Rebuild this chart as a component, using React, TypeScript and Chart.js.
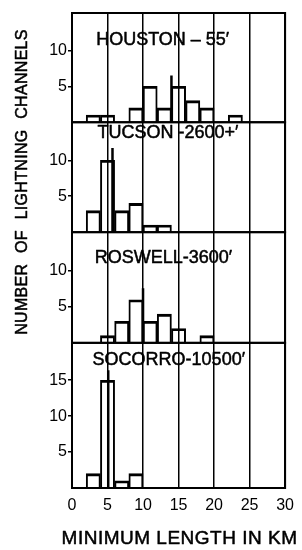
import React, { useEffect, useRef } from "react";
import { Chart, registerables } from "chart.js";

Chart.register(...registerables);

// ---- data ----
const binCenters = [1, 3, 5, 7, 9, 11, 13, 15, 17, 19, 21, 23, 25, 27, 29]; // km, 2-km bins
const houstonCounts = [0, 1, 1, 0, 2, 5, 2, 5, 3, 2, 0, 1, 0, 0, 0];
const tucsonCounts = [0, 3, 10, 3, 4, 1, 1, 0, 0, 0, 0, 0, 0, 0, 0];
const roswellCounts = [0, 0, 1, 3, 6, 3, 4, 2, 0, 1, 0, 0, 0, 0, 0];
const socorroCounts = [0, 2, 15, 1, 2, 0, 0, 0, 0, 0, 0, 0, 0, 0, 0];
const panelNames = ["HOUSTON – 55′", "TUCSON -2600+′", "ROSWELL-3600′", "SOCORRO-10500′"];
const medianKm = [14, 5.7, 10, 5.1];
const medianMarkTop = [6.5, 11.7, 7.6, 16.4];
const yTickValues = [[5, 10], [5, 10], [5, 10], [5, 10, 15]];
const yMax = [15.2, 15.3, 15.4, 20.2];
const xTickValues = [0, 5, 10, 15, 20, 25, 30];
const xTitle = "MINIMUM LENGTH IN KM";
const yTitle = "NUMBER OF LIGHTNING CHANNELS";

// ---- layout / style (not data) ----
const titleAnchor = [
  { x: 3.4, y: 11.45 },
  { x: 3.6, y: 13.8 },
  { x: 3.2, y: 11.8 },
  { x: 2.9, y: 17.8 },
];
const FONT = '"Liberation Sans", Arial, sans-serif';

const allCounts = [houstonCounts, tucsonCounts, roswellCounts, socorroCounts];

function boldText(ctx: any, text: string, x: number, y: number) {
  ctx.fillText(text, x, y);
  ctx.strokeText(text, x, y);
}

const framePlugin = {
  id: "framesAndText",
  afterDraw(chart: any) {
    const { ctx, chartArea, scales } = chart;
    ctx.save();
    ctx.strokeStyle = "#000";
    ctx.lineWidth = 2;
    for (let i = 0; i < 4; i++) {
      const s = scales["y" + i];
      ctx.strokeRect(chartArea.left, s.top, chartArea.right - chartArea.left, s.bottom - s.top);
    }
    ctx.fillStyle = "#000";
    ctx.lineWidth = 0.5;
    ctx.lineJoin = "round";
    ctx.textBaseline = "middle";
    ctx.textAlign = "left";
    ctx.font = "18px " + FONT;
    for (let i = 0; i < 4; i++) {
      const s = scales["y" + i];
      boldText(
        ctx,
        panelNames[i],
        scales.x.getPixelForValue(titleAnchor[i].x),
        s.getPixelForValue(titleAnchor[i].y)
      );
    }
    // x title
    ctx.textAlign = "center";
    ctx.font = "19px " + FONT;
    ctx.letterSpacing = "0.5px";
    boldText(ctx, xTitle, (chartArea.left + chartArea.right) / 2 + 1, chartArea.bottom + 51);
    // y title
    ctx.save();
    ctx.translate(chartArea.left - 49, chartArea.top + 169);
    ctx.rotate(-Math.PI / 2);
    ctx.font = "16px " + FONT;
    ctx.letterSpacing = "0.3px";
    ctx.wordSpacing = "6px";
    boldText(ctx, yTitle, 0, 0);
    ctx.restore();
    ctx.restore();
  },
};

export default function App() {
  const ref = useRef<HTMLCanvasElement | null>(null);

  useEffect(() => {
    if (!ref.current) return;
    const datasets: any[] = [];
    for (let i = 0; i < 4; i++) {
      datasets.push({
        type: "bar",
        data: binCenters.map((x, j) => ({ x, y: allCounts[i][j] })),
        yAxisID: "y" + i,
        borderColor: "#000",
        backgroundColor: "rgba(0,0,0,0)",
        borderWidth: { top: 2.2, left: 1.3, right: 1.3, bottom: 0 },
        borderSkipped: false,
        barPercentage: 1,
        categoryPercentage: 1,
        grouped: false,
      });
      datasets.push({
        type: "line",
        data: [
          { x: medianKm[i], y: 0 },
          { x: medianKm[i], y: medianMarkTop[i] },
        ],
        yAxisID: "y" + i,
        borderColor: "#000",
        borderWidth: 2.5,
        pointRadius: 0,
        fill: false,
      });
    }

    const scales: any = {
      x: {
        type: "linear",
        position: "bottom",
        min: 0,
        max: 30,
        offset: false,
        afterBuildTicks: (s: any) => {
          s.ticks = xTickValues.map((v) => ({ value: v }));
        },
        ticks: {
          color: "#000",
          font: { size: 16, family: FONT },
          padding: 8,
          maxRotation: 0,
          autoSkip: false,
        },
        grid: { color: "#000", lineWidth: 1.5, drawTicks: false, offset: false },
        border: { display: false },
        afterFit: (s: any) => {
          s.height = 62;
        },
      },
    };
    for (let i = 0; i < 4; i++) {
      scales["y" + i] = {
        type: "linear",
        position: "left",
        stack: "panels",
        stackWeight: yMax[i],
        weight: 4 - i,
        min: 0,
        max: yMax[i],
        afterBuildTicks: (s: any) => {
          s.ticks = yTickValues[i].map((v) => ({ value: v }));
        },
        ticks: {
          color: "#000",
          font: { size: 16, family: FONT },
          padding: 1,
        },
        grid: {
          drawOnChartArea: false,
          drawTicks: true,
          tickLength: 4,
          color: "#000",
          lineWidth: 1.5,
        },
        border: { display: false },
        afterFit: (s: any) => {
          s.width = 40;
        },
      };
    }

    const chart = new Chart(ref.current, {
      type: "bar",
      data: { datasets },
      options: {
        responsive: false,
        animation: false,
        layout: { padding: { left: 32, top: 13, right: 13, bottom: 0 } },
        plugins: { legend: { display: false }, tooltip: { enabled: false } },
        scales,
      },
      plugins: [framePlugin],
    } as any);
    return () => chart.destroy();
  }, []);

  return (
    <div style={{ position: "absolute", left: 0, top: 0, width: 302, height: 550, background: "#fff" }}>
      <canvas ref={ref} width={302} height={550} style={{ display: "block" }} />
    </div>
  );
}
